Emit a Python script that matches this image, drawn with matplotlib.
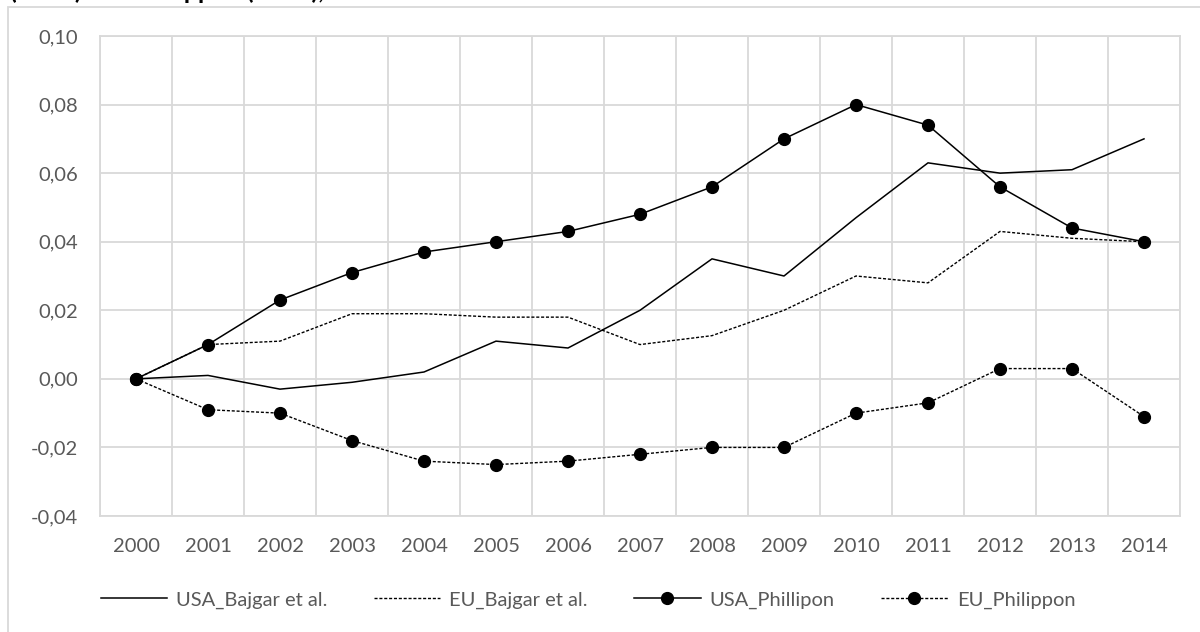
import matplotlib.pyplot as plt
import matplotlib.patches as patches
from matplotlib.ticker import FuncFormatter, MultipleLocator
import numpy as np

plt.rcParams['font.family'] = ['Lato', 'DejaVu Sans']

years = ['2000', '2001', '2002', '2003', '2004', '2005', '2006', '2007',
         '2008', '2009', '2010', '2011', '2012', '2013', '2014']

usa_bajgar = [0.000, 0.001, -0.003, -0.001, 0.002, 0.011, 0.009, 0.020,
              0.035, 0.030, 0.047, 0.063, 0.060, 0.061, 0.070]
eu_bajgar = [0.000, 0.010, 0.011, 0.019, 0.019, 0.018, 0.018, 0.010,
             0.0126, 0.020, 0.030, 0.028, 0.043, 0.041, 0.040]
usa_phillipon = [0.000, 0.010, 0.023, 0.031, 0.037, 0.040, 0.043, 0.048,
                 0.056, 0.070, 0.080, 0.074, 0.056, 0.044, 0.040]
eu_philippon = [0.000, -0.009, -0.010, -0.018, -0.024, -0.025, -0.024, -0.022,
                -0.020, -0.020, -0.010, -0.007, 0.003, 0.003, -0.011]

labels = ['USA_Bajgar et al.', 'EU_Bajgar et al.', 'USA_Phillipon', 'EU_Philippon']

grid_col = '#d9d9d9'
text_col = '#595959'
dash = (0, (2.2, 1.3))

fig = plt.figure(figsize=(12, 6.32), dpi=100)
ax = fig.add_axes([100 / 1200, 1 - 516 / 632, 1080 / 1200, 480 / 632])

x = np.arange(len(years))
ax.plot(x, usa_bajgar, color='black', lw=1.1, label=labels[0])
ax.plot(x, eu_bajgar, color='black', lw=1.0, ls=dash, label=labels[1])
ax.plot(x, usa_phillipon, color='black', lw=1.1, marker='o', ms=8.5, label=labels[2])
ax.plot(x, eu_philippon, color='black', lw=1.0, ls=dash, marker='o', ms=8.5, label=labels[3])

ax.set_xlim(-0.5, len(years) - 0.5)
ax.set_ylim(-0.04, 0.10)
ax.yaxis.set_major_locator(MultipleLocator(0.02))
ax.yaxis.set_major_formatter(FuncFormatter(lambda v, p: f'{v:.2f}'.replace('.', ',')))
ax.set_xticks(x)
ax.set_xticklabels(years)
ax.set_xticks(np.arange(-0.5, len(years), 1), minor=True)

ax.grid(axis='y', which='major', color=grid_col, lw=1.3)
ax.grid(axis='x', which='minor', color=grid_col, lw=1.3)
ax.set_axisbelow(True)
ax.tick_params(axis='both', which='both', length=0, labelsize=14.5, labelcolor=text_col)
ax.tick_params(axis='y', pad=16)
ax.tick_params(axis='x', pad=16)
for s in ax.spines.values():
    s.set_color(grid_col)
    s.set_linewidth(1.3)

leg = fig.legend(loc='center', bbox_to_anchor=(0.49, 1 - 600 / 632), ncol=4,
                 frameon=False, fontsize=14.5, handlelength=3.3, handletextpad=0.45,
                 columnspacing=2.3, numpoints=1)
for t in leg.get_texts():
    t.set_color(text_col)

# chart frame, cropped at right and bottom
frame = patches.Rectangle((8 / 1200, -0.1), 1.2, 1.1 - 7 / 632, transform=fig.transFigure,
                          fill=False, edgecolor=grid_col, lw=1.3, clip_on=False)
fig.patches.append(frame)

# title cut off by the top edge
fig.text(10 / 1200, 1 + 1 / 632, '(2015) and Philippon (2019), 2000-2014',
         fontsize=18, fontweight='bold', va='baseline', ha='left', color='black')

fig.savefig('out.png', dpi=100)
